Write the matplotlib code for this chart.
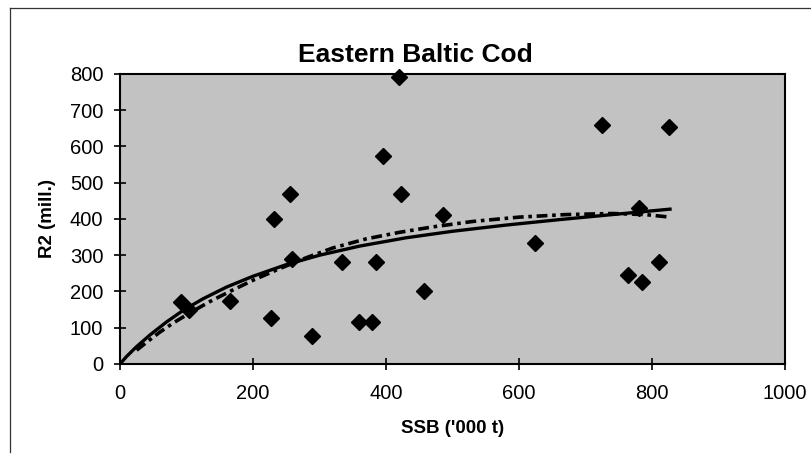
import matplotlib
matplotlib.use("Agg")
import matplotlib.pyplot as plt
from matplotlib.lines import Line2D

plt.rcParams["font.family"] = ["Liberation Sans", "DejaVu Sans"]

# observed stock / recruitment pairs
ssb = [92, 104, 165, 227, 232, 255, 258, 289, 334, 360, 379, 385,
       395, 419, 423, 457, 485, 624, 724, 764, 780, 785, 810, 825]
r2 = [172, 149, 175, 126, 400, 469, 290, 77, 281, 115, 115, 282,
      574, 791, 468, 202, 410, 333, 659, 245, 429, 227, 281, 653]

# fitted curves
fit1_x = [0, 10, 25, 45, 70, 95, 125, 160, 200, 250, 300, 360, 430, 500, 580, 660, 740, 827]
fit1_y = [0, 21, 48, 80, 116, 148, 180, 212, 242, 274, 300, 325, 348, 366, 383, 398, 412, 427]

fit2_x = [25, 40, 60, 80, 105, 135, 165, 200, 240, 280, 320, 370, 420, 470, 530, 600, 670, 740, 790, 827]
fit2_y = [38, 60, 88, 113, 141, 172, 200, 231, 263, 293, 320, 345, 363, 378, 393, 405, 412, 415, 412, 405]

x_ticks = [0, 200, 400, 600, 800, 1000]
y_ticks = [0, 100, 200, 300, 400, 500, 600, 700, 800]

fig = plt.figure(figsize=(8.11, 4.59), dpi=100)
ax = fig.add_axes([0.148, 0.207, 0.820, 0.632])
ax.set_facecolor("#c2c2c2")

ax.plot(fit2_x, fit2_y, color="black", linewidth=2.6,
        linestyle=(0, (3, 1.3, 1, 1.3)), zorder=3)
ax.plot(fit1_x, fit1_y, color="black", linewidth=2.4, zorder=4)
ax.plot(ssb, r2, linestyle="none", marker="D", markersize=8,
        color="black", zorder=5, clip_on=False)

ax.set_xlim(0, 1000)
ax.set_ylim(0, 800)
ax.set_xticks(x_ticks)
ax.set_yticks(y_ticks)

for s in ax.spines.values():
    s.set_color("black")
    s.set_linewidth(1.5)

ax.tick_params(axis="x", direction="inout", length=9, width=1.2,
               pad=10, labelsize=14.5)
ax.tick_params(axis="y", direction="inout", length=8, width=1.2,
               pad=8, labelsize=14.5)

ax.set_xlabel("SSB ('000 t)", fontsize=13.5, fontweight="bold", labelpad=12)
ax.set_ylabel("R2 (mill.)", fontsize=13.5, fontweight="bold", labelpad=10)

fig.text(415 / 811, 1 - 55 / 459, "Eastern Baltic Cod", ha="center",
         va="center", fontsize=19, fontweight="bold")

# outer chart border (only top and left visible)
fig.add_artist(Line2D([10 / 811, 1.0], [1 - 8 / 459, 1 - 8 / 459],
                      transform=fig.transFigure, color="#333333", linewidth=0.9))
fig.add_artist(Line2D([10 / 811, 10 / 811], [1 - 8 / 459, 1 - 452 / 459],
                      transform=fig.transFigure, color="#333333", linewidth=0.9))

fig.savefig("out.png", dpi=100)
